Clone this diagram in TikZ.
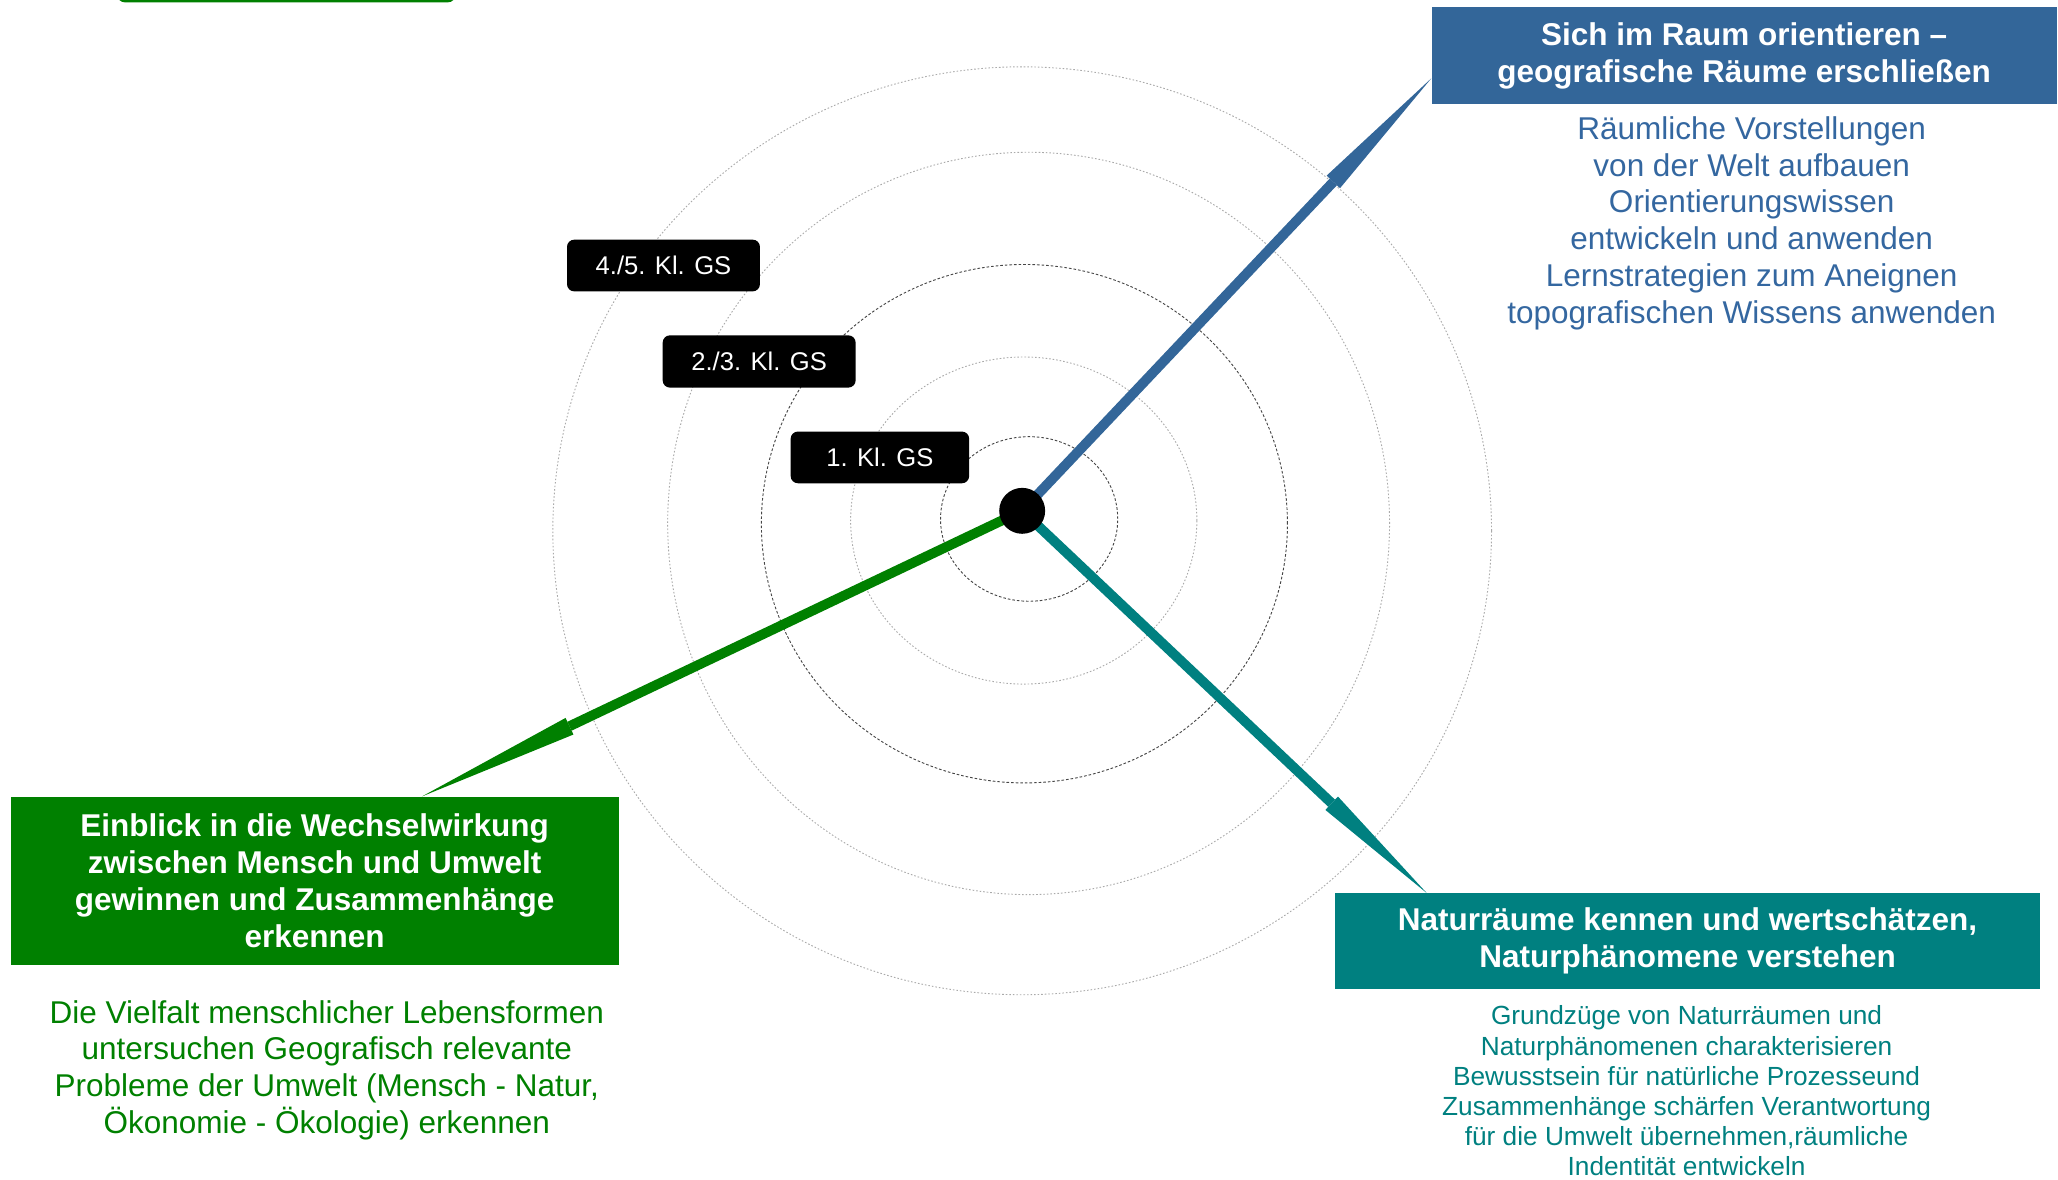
\documentclass[tikz,border=0pt]{standalone}
\usepackage{fontspec}
\setmainfont{Liberation Sans}
\usetikzlibrary{calc,backgrounds}
\definecolor{rblue}{RGB}{51,102,153}
\definecolor{rbluetext}{RGB}{52,103,160}
\definecolor{rgreen}{RGB}{0,128,0}
\definecolor{rteal}{RGB}{0,128,128}
\definecolor{ringdarkc}{RGB}{70,70,70}
\definecolor{ringlightc}{RGB}{170,170,170}
\begin{document}
\begin{tikzpicture}[x=1pt,y=-1pt,
  ringdark/.style={draw=ringdarkc, line width=0.7pt, dash pattern=on 2pt off 1.5pt},
  ringlight/.style={draw=ringlightc, line width=0.7pt, dash pattern=on 1.2pt off 1.5pt},
  titlebox/.style={rectangle, inner sep=0pt, text=white, font=\bfseries\fontsize{24}{28}\selectfont, align=center},
  bodytext/.style={inner sep=0pt, align=center, font=\fontsize{24}{28}\selectfont},
  levelbox/.style={rectangle, rounded corners=5.5pt, fill=black, text=white, font=\fontsize{19.5}{23}\selectfont, inner sep=0pt},
  spoke/.style={line width=7.5pt},
  hubdot/.style={circle, fill=black, minimum size=35pt, inner sep=0pt},
]
\useasboundingbox (0,0) rectangle (1568,899);

% partial box at the top edge
\node[fill=rgreen, rounded corners=6pt, minimum width=258pt, minimum height=40pt, inner sep=0pt, anchor=south west] (topbox) at (89,2) {};

% hub
\node[hubdot] (dot) at (778.8,389.2) {};

% level labels
\node[levelbox, minimum width=147pt, minimum height=39.4pt] (l45) at (505.5,202.3) {4./5. Kl. GS};
\node[levelbox, minimum width=147pt, minimum height=39.8pt] (l23) at (578.4,275.4) {2./3. Kl. GS};
\node[levelbox, minimum width=136pt, minimum height=39.4pt] (l1) at (670.4,348.5) {1. Kl. GS};

% title boxes
\node[titlebox, fill=rblue, minimum width=476.3pt, minimum height=73.9pt] (blue) at (1328.85,42.55)
  {Sich im Raum orientieren –\\geografische Räume erschließen};
\node[titlebox, fill=rgreen, minimum width=463.4pt, minimum height=128.2pt] (green) at (239.7,671.1)
  {Einblick in die Wechselwirkung\\zwischen Mensch und Umwelt\\gewinnen und Zusammenhänge\\erkennen};
\node[titlebox, fill=rteal, minimum width=537.1pt, minimum height=73.7pt] (teal) at (1285.75,716.95)
  {Naturräume kennen und wertschätzen,\\Naturphänomene verstehen};

% body texts
\node[bodytext, text=rbluetext] (bluetext) at (1334.6,170)
  {Räumliche Vorstellungen\\von der Welt aufbauen\\Orientierungswissen\\entwickeln und anwenden\\Lernstrategien zum Aneignen\\topografischen Wissens anwenden};
\node[bodytext, text=rgreen] (greentext) at (249,815.4)
  {Die Vielfalt menschlicher Lebensformen\\untersuchen Geografisch relevante\\Probleme der Umwelt (Mensch - Natur,\\Ökonomie - Ökologie) erkennen};
\node[bodytext, text=rteal, font=\fontsize{20}{22.9}\selectfont] (tealtext) at (1285,831)
  {Grundzüge von Naturräumen und\\Naturphänomenen charakterisieren\\Bewusstsein für natürliche Prozesseund\\Zusammenhänge schärfen Verantwortung\\für die Umwelt übernehmen,räumliche\\Indentität entwickeln};

% spoke end points
\coordinate (tipB) at (1090.5,59.7);
\coordinate (tipG) at (321.5,606.8);
\coordinate (tipT) at (1087,680.4);
\coordinate (baseB) at ($(tipB)!108.6pt!(dot.center)$);
\coordinate (baseG) at ($(tipG)!124.5pt!(dot.center)$);
\coordinate (baseT) at ($(tipT)!99.6pt!(dot.center)$);

\begin{scope}[on background layer]
  % rings
  \draw[ringlight] (778.8,404.4) ellipse [x radius=357.6pt, y radius=353.5pt];
  \draw[ringlight] (783.7,398.8) ellipse [x radius=275pt, y radius=282.8pt];
  \draw[ringdark]  (780.5,399.0) ellipse [x radius=200.4pt, y radius=197.5pt];
  \draw[ringlight] (780.0,396.6) ellipse [x radius=131.9pt, y radius=124.6pt];
  \draw[ringdark]  (784.1,395.4) ellipse [x radius=67.5pt, y radius=62.7pt];
  % spokes
  \draw[spoke, draw=rblue] (dot.center) -- (baseB);
  \fill[rblue] ($(baseB)!7pt!90:(tipB)$) -- (tipB) -- ($(baseB)!7pt!-90:(tipB)$) -- cycle;
  \draw[spoke, draw=rgreen] (dot.center) -- (baseG);
  \fill[rgreen] ($(baseG)!7pt!90:(tipG)$) -- (tipG) -- ($(baseG)!7pt!-90:(tipG)$) -- cycle;
  \draw[spoke, draw=rteal] (dot.center) -- (baseT);
  \fill[rteal] ($(baseT)!7pt!90:(tipT)$) -- (tipT) -- ($(baseT)!7pt!-90:(tipT)$) -- cycle;
\end{scope}
\end{tikzpicture}
\end{document}
